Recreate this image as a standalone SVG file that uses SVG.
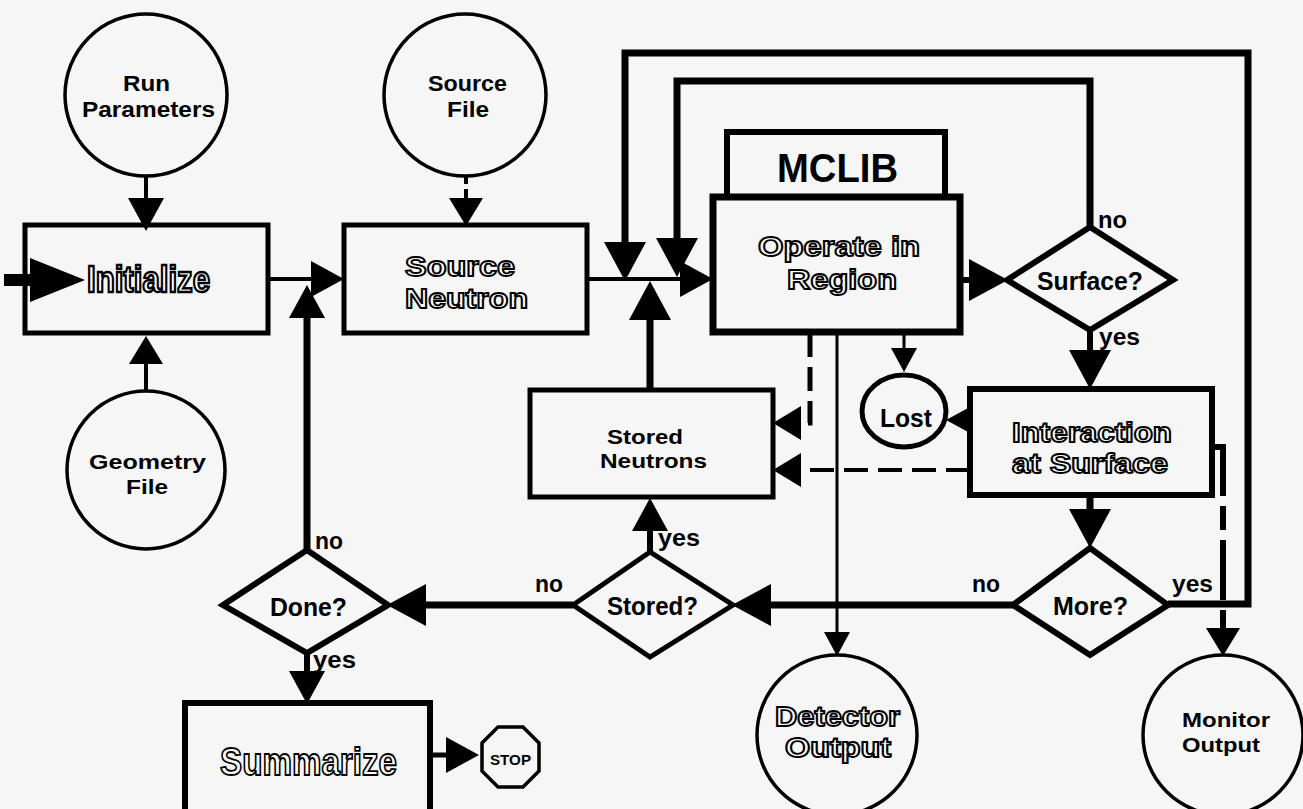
<svg xmlns="http://www.w3.org/2000/svg" width="1303" height="809" viewBox="0 0 1303 809">
<defs>
<style>
.bg{fill:#f6f6f6}
.n{fill:none;stroke:#000;stroke-linejoin:miter}
.c{fill:none;stroke:#000;stroke-linejoin:miter;stroke-linecap:butt}
.d{stroke-dasharray:24 10}
.t{font-family:"Liberation Sans",Arial,Helvetica,sans-serif;font-weight:bold;fill:#000}
.o{font-family:"Liberation Sans",Arial,Helvetica,sans-serif;font-weight:bold;fill:#fff;stroke:#000;stroke-width:1.8}
.l{font-family:"Liberation Sans",Arial,Helvetica,sans-serif;font-weight:bold;fill:#000;font-size:23px}
</style>
<marker id="aL" markerUnits="userSpaceOnUse" markerWidth="40" markerHeight="42" refX="0" refY="21" orient="auto" overflow="visible"><path d="M0,0 L39,21 L0,42 z" fill="#000"/></marker>
<marker id="aM" markerUnits="userSpaceOnUse" markerWidth="34" markerHeight="36" refX="0" refY="18" orient="auto" overflow="visible"><path d="M0,0 L33,18 L0,36 z" fill="#000"/></marker>
<marker id="aMs" markerUnits="userSpaceOnUse" markerWidth="28" markerHeight="34" refX="0" refY="17" orient="auto" overflow="visible"><path d="M0,0 L28,17 L0,34 z" fill="#000"/></marker>
<marker id="aS" markerUnits="userSpaceOnUse" markerWidth="24" markerHeight="26" refX="0" refY="13" orient="auto" overflow="visible"><path d="M0,0 L24,13 L0,26 z" fill="#000"/></marker>
</defs>
<rect class="bg" x="0" y="0" width="1303" height="809"/>

<g id="connectors">
  <path class="c" d="M4,280 H32" stroke-width="12"/>
  <polygon points="30,258 85,280 30,302" fill="#000"/>
  <path class="c" d="M146,176 V198" stroke-width="4" marker-end="url(#aM)"/>
  <path class="c" d="M146,391 V364" stroke-width="4" marker-end="url(#aMs)"/>
  <path class="c" d="M466,175 V198" stroke-width="4" stroke-dasharray="9 5" marker-end="url(#aMs)"/>
  <path class="c" d="M268,279 H311" stroke-width="4" marker-end="url(#aM)"/>
  <path class="c" d="M307,550 V318" stroke-width="7" marker-end="url(#aM)"/>
  <path class="c" d="M587,279 H680" stroke-width="4" marker-end="url(#aM)"/>
  <path class="c" d="M1168,604 H1248 V53 H625 V242" stroke-width="7" marker-end="url(#aL)"/>
  <path class="c" d="M1090,227 V81 H677 V238" stroke-width="7" marker-end="url(#aL)"/>
  <path class="c" d="M650,390 V320" stroke-width="7" marker-end="url(#aL)"/>
  <path class="c" d="M960,280 H969" stroke-width="6" marker-end="url(#aL)"/>
  <path class="c" d="M1090,330 V350" stroke-width="6" marker-end="url(#aL)"/>
  <path class="c" d="M1090,495 V509" stroke-width="7" marker-end="url(#aL)"/>
  <path class="c" d="M1013,605 H771" stroke-width="7" marker-end="url(#aL)"/>
  <path class="c" d="M573,605 H426" stroke-width="7" marker-end="url(#aL)"/>
  <path class="c" d="M650,552 V531" stroke-width="6" marker-end="url(#aM)"/>
  <path class="c" d="M307,653 V671" stroke-width="6" marker-end="url(#aM)"/>
  <path class="c" d="M430,755 H446" stroke-width="5" marker-end="url(#aM)"/>
  <path class="c" d="M904,332 V348" stroke-width="3" marker-end="url(#aS)"/>
  <path class="c" d="M972,420 H970" stroke-width="3" marker-end="url(#aS)"/>
  <path class="c" d="M837,332 V632" stroke-width="3" marker-end="url(#aS)"/>
  <path class="c d" d="M810,333 V423 H801" stroke-width="5" marker-end="url(#aMs)"/>
  <path class="c d" d="M970,470 H801" stroke-width="4" marker-end="url(#aMs)"/>
  <path class="c" d="M1212,447 H1223 V628" stroke-width="6" stroke-dasharray="60 10 24 10" marker-end="url(#aMs)"/>
</g>

<g id="run-parameters">
  <circle class="n" cx="146" cy="95" r="81" stroke-width="3.5"/>
  <text class="t" x="123" y="91" font-size="22" textLength="47" lengthAdjust="spacingAndGlyphs">Run</text>
  <text class="t" x="82" y="117" font-size="22" textLength="133" lengthAdjust="spacingAndGlyphs">Parameters</text>
</g>
<g id="source-file">
  <circle class="n" cx="465" cy="95" r="81" stroke-width="3.5"/>
  <text class="t" x="428" y="91" font-size="22" textLength="79" lengthAdjust="spacingAndGlyphs">Source</text>
  <text class="t" x="447" y="117" font-size="22" textLength="42" lengthAdjust="spacingAndGlyphs">File</text>
</g>
<g id="geometry-file">
  <circle class="n" cx="146" cy="470" r="79" stroke-width="3.5"/>
  <text class="t" x="89" y="469" font-size="21" textLength="117" lengthAdjust="spacingAndGlyphs">Geometry</text>
  <text class="t" x="126" y="494" font-size="21" textLength="42" lengthAdjust="spacingAndGlyphs">File</text>
</g>
<g id="initialize">
  <rect class="n" x="25" y="225" width="243" height="108" stroke-width="5"/>
  <text class="o" x="87" y="292" font-size="36" textLength="123" lengthAdjust="spacingAndGlyphs" style="stroke-width:2.4">Initialize</text>
</g>
<g id="source-neutron">
  <rect class="n" x="344" y="225" width="243" height="108" stroke-width="5"/>
  <text class="o" x="405" y="276" font-size="28" textLength="110" lengthAdjust="spacingAndGlyphs">Source</text>
  <text class="o" x="405" y="308" font-size="28" textLength="123" lengthAdjust="spacingAndGlyphs">Neutron</text>
</g>
<g id="mclib">
  <rect class="n" x="727" y="132" width="218" height="65" stroke-width="6"/>
  <text class="t" x="777" y="182" font-size="40" textLength="121" lengthAdjust="spacingAndGlyphs">MCLIB</text>
</g>
<g id="operate-in-region">
  <rect class="n" x="713" y="197" width="247" height="135" stroke-width="7" fill="#f6f6f6"/>
  <text class="o" x="758" y="256" font-size="28" textLength="162" lengthAdjust="spacingAndGlyphs">Operate in</text>
  <text class="o" x="787" y="289" font-size="28" textLength="110" lengthAdjust="spacingAndGlyphs">Region</text>
</g>
<g id="surface">
  <polygon class="n" points="1007,280 1090,227 1173,280 1090,330" stroke-width="6"/>
  <text class="t" x="1037" y="290" font-size="26" textLength="106" lengthAdjust="spacingAndGlyphs">Surface?</text>
</g>
<g id="interaction-at-surface">
  <rect class="n" x="970" y="389" width="242" height="106" stroke-width="6"/>
  <text class="o" x="1012" y="442" font-size="27" textLength="160" lengthAdjust="spacingAndGlyphs">Interaction</text>
  <text class="o" x="1012" y="473" font-size="27" textLength="156" lengthAdjust="spacingAndGlyphs">at Surface</text>
</g>
<g id="lost">
  <ellipse class="n" cx="904" cy="411" rx="42" ry="36" stroke-width="5" fill="#f6f6f6"/>
  <text class="t" x="880" y="427" font-size="26" textLength="52" lengthAdjust="spacingAndGlyphs">Lost</text>
</g>
<g id="stored-neutrons">
  <rect class="n" x="530" y="390" width="243" height="107" stroke-width="5"/>
  <text class="t" x="607" y="444" font-size="20" textLength="76" lengthAdjust="spacingAndGlyphs">Stored</text>
  <text class="t" x="600" y="468" font-size="20" textLength="107" lengthAdjust="spacingAndGlyphs">Neutrons</text>
</g>
<g id="stored">
  <polygon class="n" points="573,605 650,552 733,605 650,657" stroke-width="5"/>
  <text class="t" x="607" y="615" font-size="26" textLength="91" lengthAdjust="spacingAndGlyphs">Stored?</text>
</g>
<g id="more">
  <polygon class="n" points="1013,605 1090,548 1168,605 1090,655" stroke-width="6"/>
  <text class="t" x="1053" y="615" font-size="26" textLength="75" lengthAdjust="spacingAndGlyphs">More?</text>
</g>
<g id="done">
  <polygon class="n" points="223,605 307,550 388,605 307,653" stroke-width="6"/>
  <text class="t" x="270" y="616" font-size="26" textLength="77" lengthAdjust="spacingAndGlyphs">Done?</text>
</g>
<g id="summarize">
  <rect class="n" x="185" y="703" width="245" height="125" stroke-width="6"/>
  <text class="o" x="220" y="775" font-size="38" textLength="177" lengthAdjust="spacingAndGlyphs">Summarize</text>
</g>
<g id="stop">
  <polygon class="n" points="498,727 523,727 539,743 539,771 523,787 498,787 482,771 482,743" stroke-width="3.5"/>
  <text class="t" x="490" y="765" font-size="14" textLength="41" lengthAdjust="spacingAndGlyphs">STOP</text>
</g>
<g id="detector-output">
  <circle class="n" cx="837" cy="735" r="80" stroke-width="3.5"/>
  <text class="o" x="775" y="726" font-size="27" textLength="125" lengthAdjust="spacingAndGlyphs">Detector</text>
  <text class="o" x="785" y="757" font-size="27" textLength="106" lengthAdjust="spacingAndGlyphs">Output</text>
</g>
<g id="monitor-output">
  <circle class="n" cx="1223" cy="735" r="80" stroke-width="3.5"/>
  <text class="t" x="1182" y="727" font-size="21" textLength="88" lengthAdjust="spacingAndGlyphs">Monitor</text>
  <text class="t" x="1182" y="752" font-size="21" textLength="78" lengthAdjust="spacingAndGlyphs">Output</text>
</g>
<g id="labels">
  <text class="l" x="1098" y="228" textLength="29" lengthAdjust="spacingAndGlyphs">no</text>
  <text class="l" x="1099" y="345" textLength="41" lengthAdjust="spacingAndGlyphs">yes</text>
  <text class="l" x="972" y="592" textLength="28" lengthAdjust="spacingAndGlyphs">no</text>
  <text class="l" x="1172" y="592" textLength="41" lengthAdjust="spacingAndGlyphs">yes</text>
  <text class="l" x="535" y="592" textLength="28" lengthAdjust="spacingAndGlyphs">no</text>
  <text class="l" x="658" y="546" textLength="42" lengthAdjust="spacingAndGlyphs">yes</text>
  <text class="l" x="315" y="549" textLength="28" lengthAdjust="spacingAndGlyphs">no</text>
  <text class="l" x="313" y="668" textLength="43" lengthAdjust="spacingAndGlyphs">yes</text>
</g>
</svg>
